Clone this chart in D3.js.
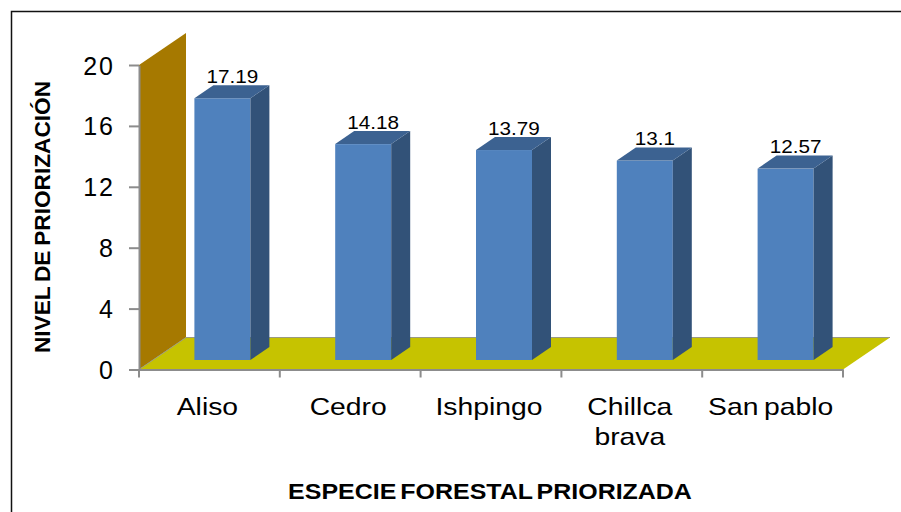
<!DOCTYPE html>
<html>
<head>
<meta charset="utf-8">
<script src="https://cdn.jsdelivr.net/npm/d3@7"></script>
<style>
  html, body { margin: 0; padding: 0; background: #fff; }
  svg { display: block; }
  text { font-family: "Liberation Sans", Arial, sans-serif; fill: #000; }
</style>
</head>
<body>
<svg width="901" height="512"></svg>
<script>
// Datos
const especies = ["Aliso", "Cedro", "Ishpingo", "Chillca brava", "San pablo"];
const niveles = [17.19, 14.18, 13.79, 13.1, 12.57];
const ticksY = [0, 4, 8, 12, 16, 20];

const attr_area = {
  left: 139,
  right: 843,
  top: 65,
  bottom: 369.5,
  depthX: 47,
  depthY: 32,
  barShiftX: 13,
  barShiftY: 9.5,
  barW: 56,
  sideX: 19,
  sideY: 13
};

const svg = d3.select("svg");
const a = attr_area;

// marco de la imagen (solo arriba e izquierda)
svg.append("path")
  .attr("d", "M11.5,512V11.5H901")
  .attr("fill", "none")
  .attr("stroke", "#111")
  .attr("stroke-width", 1.5);

const scaleX = d3.scaleBand().domain(especies).range([a.left, a.right]);
const scaleY = d3.scaleLinear().domain([0, 20]).range([a.bottom, a.top]);

// pared y piso
svg.append("path")
  .attr("d", `M${a.left},${scaleY(20)}L${a.left + a.depthX},${scaleY(20) - a.depthY}V${a.bottom - a.depthY}L${a.left},${a.bottom}Z`)
  .attr("fill", "#a67900");

svg.append("path")
  .attr("d", `M${a.left},${a.bottom}L${a.left + a.depthX},${a.bottom - a.depthY}H${a.right + a.depthX}L${a.right},${a.bottom}Z`)
  .attr("fill", "#c6c300");

// linea de fondo del piso
svg.append("path")
  .attr("d", `M${a.left},${a.bottom}L${a.left + a.depthX},${a.bottom - a.depthY}H${a.right + a.depthX}`)
  .attr("fill", "none")
  .attr("stroke", "#9a9a80")
  .attr("stroke-width", 1);

// ejes
const axisY = d3.axisLeft(scaleY).tickValues(ticksY).tickSize(10).tickPadding(14).tickSizeOuter(0);
const gY = svg.append("g").attr("transform", `translate(${a.left},0)`).call(axisY);
gY.selectAll("text")
  .style("font-size", "25px")
  .style("letter-spacing", "2px")
  .attr("dy", "0.36em");

const axisX = d3.axisBottom(scaleX).tickValues([]).tickSizeOuter(0);
const gX = svg.append("g").attr("transform", `translate(0,${a.bottom})`).call(axisX);
[gX, gY].forEach(g => {
  g.selectAll("path, line").attr("stroke", "#8c8c8c").attr("stroke-width", 2);
});

// marcas del eje X entre categorias
svg.append("g").selectAll("line")
  .data([...especies.map(d => scaleX(d)), a.right])
  .enter()
  .append("line")
  .attr("x1", d => d).attr("x2", d => d)
  .attr("y1", a.bottom).attr("y2", a.bottom + 8)
  .attr("stroke", "#8c8c8c")
  .attr("stroke-width", 2);

// barras
const bars = svg.append("g").selectAll("g")
  .data(especies.map((e, i) => ({ e, v: niveles[i] })))
  .enter()
  .append("g")
  .attr("transform", d => `translate(${scaleX(d.e) + scaleX.bandwidth() / 2 + a.barShiftX - a.barW / 2},${-a.barShiftY})`);

bars.append("rect")
  .attr("x", 0)
  .attr("y", d => scaleY(d.v))
  .attr("width", a.barW)
  .attr("height", d => scaleY(0) - scaleY(d.v))
  .attr("fill", "#4f81bd");

bars.append("path")
  .attr("d", d => `M${a.barW},${scaleY(d.v)}l${a.sideX},${-a.sideY}V${scaleY(0) - a.sideY}L${a.barW},${scaleY(0)}Z`)
  .attr("fill", "#325278");

bars.append("path")
  .attr("d", d => `M0,${scaleY(d.v)}l${a.sideX},${-a.sideY}h${a.barW}l${-a.sideX},${a.sideY}Z`)
  .attr("fill", "#3c6291");

// etiquetas de valores, un poco estiradas a lo ancho como en la imagen
bars.append("text")
  .attr("text-anchor", "middle")
  .attr("transform", d => `translate(${a.barW / 2 + 10},${scaleY(d.v) - a.sideY - 2.5}) scale(1.15,1)`)
  .style("font-size", "18px")
  .text(d => d.v);

// nombres de categorias
const labels = svg.append("g").selectAll("text")
  .data(especies)
  .enter()
  .append("text")
  .attr("text-anchor", "middle")
  .attr("transform", d => `translate(${scaleX(d) + scaleX.bandwidth() / 2 - 2},415) scale(1.18,1)`)
  .style("font-size", "24px")
  .style("word-spacing", "-2px");

labels.each(function (d) {
  const partes = d === "Chillca brava" ? ["Chillca", "brava"] : [d];
  d3.select(this).selectAll("tspan")
    .data(partes)
    .enter()
    .append("tspan")
    .attr("x", 0)
    .attr("dy", (p, i) => i ? 30 : 0)
    .text(p => p);
});

// titulos de ejes
svg.append("text")
  .attr("text-anchor", "middle")
  .attr("transform", "translate(490,498.5) scale(1.135,1)")
  .style("font-size", "22px")
  .style("font-weight", "bold")
  .style("word-spacing", "-2.5px")
  .text("ESPECIE FORESTAL PRIORIZADA");

svg.append("text")
  .attr("transform", "translate(50,217) rotate(-90) scale(1.03,1)")
  .attr("text-anchor", "middle")
  .style("font-size", "22px")
  .style("font-weight", "bold")
  .style("word-spacing", "-1.5px")
  .text("NIVEL DE PRIORIZACIÓN");
</script>
</body>
</html>
